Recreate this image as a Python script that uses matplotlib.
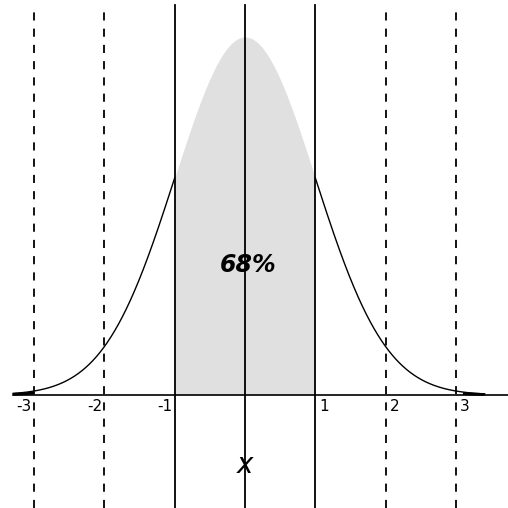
import numpy as np
import matplotlib
matplotlib.use("Agg")
import matplotlib.pyplot as plt

# data
sigma_ticks = [-3, -2, -1, 1, 2, 3]
tick_labels = ["-3", "-2", "-1", "1", "2", "3"]
dashed_at = [-3, -2, 2, 3]
solid_at = [-1, 0, 1]
curve_range = [-3.3, 3.41]
shade_range = [-1, 1]
pct_label = "68%"

fig = plt.figure(figsize=(5.08, 5.08), dpi=100)
ax = fig.add_axes([0, 0, 1, 1])
ax.set_axis_off()

ppu_x = 70.3
ppu_y = 358 / 0.398942
ax.set_xlim(-245 / ppu_x, (508 - 245) / ppu_x)
ax.set_ylim(-(508 - 395) / ppu_y, 395 / ppu_y)

def pdf(x):
    return np.exp(-x ** 2 / 2) / np.sqrt(2 * np.pi)

xs = np.linspace(shade_range[0], shade_range[1], 400)
ax.fill_between(xs, 0, pdf(xs), color="#e0e0e0", lw=0, zorder=1)

# axis line
ax.axhline(0, xmin=13 / 508, xmax=1.0, color="black", lw=1.2, zorder=3)

# curve drawn only outside the shaded band
for a, b in [(curve_range[0], shade_range[0]), (shade_range[1], curve_range[1])]:
    xc = np.linspace(a, b, 400)
    ax.plot(xc, pdf(xc), color="black", lw=1.0, zorder=4)
# thick tail segments near axis
for a, b in [(curve_range[0], -3.0), (3.1, curve_range[1])]:
    xt = np.linspace(a, b, 50)
    ax.plot(xt, pdf(xt) * 0.5, color="black", lw=2.0, zorder=4, solid_capstyle="butt")

top = 395 / ppu_y
bottom = -(508 - 395) / ppu_y
for x in solid_at:
    ax.plot([x, x], [bottom, top - 5 / ppu_y], color="black", lw=1.3, zorder=5)
for x in dashed_at:
    ax.plot([x, x], [bottom, top - 5 / ppu_y], color="black", lw=1.3,
            dashes=(4.5, 4.5), zorder=5)

for t, lab in zip(sigma_ticks, tick_labels):
    if t < 0:
        ax.text(t - 0.03, -0.005, lab, ha="right", va="top", fontsize=11,
                family="DejaVu Sans", zorder=6)
    else:
        ax.text(t + 0.06, -0.005, lab, ha="left", va="top", fontsize=11,
                family="DejaVu Sans", zorder=6)

ax.text(0.05, (395 - 265) / ppu_y, pct_label, ha="center", va="center",
        fontsize=17, fontweight="bold", fontstyle="italic",
        family="DejaVu Sans", zorder=6)
ax.text(0.0, (395 - 465) / ppu_y, "x", ha="center", va="center",
        fontsize=20, fontstyle="italic", family="DejaVu Sans", zorder=6)

fig.savefig("out.png", dpi=100, facecolor="white")
